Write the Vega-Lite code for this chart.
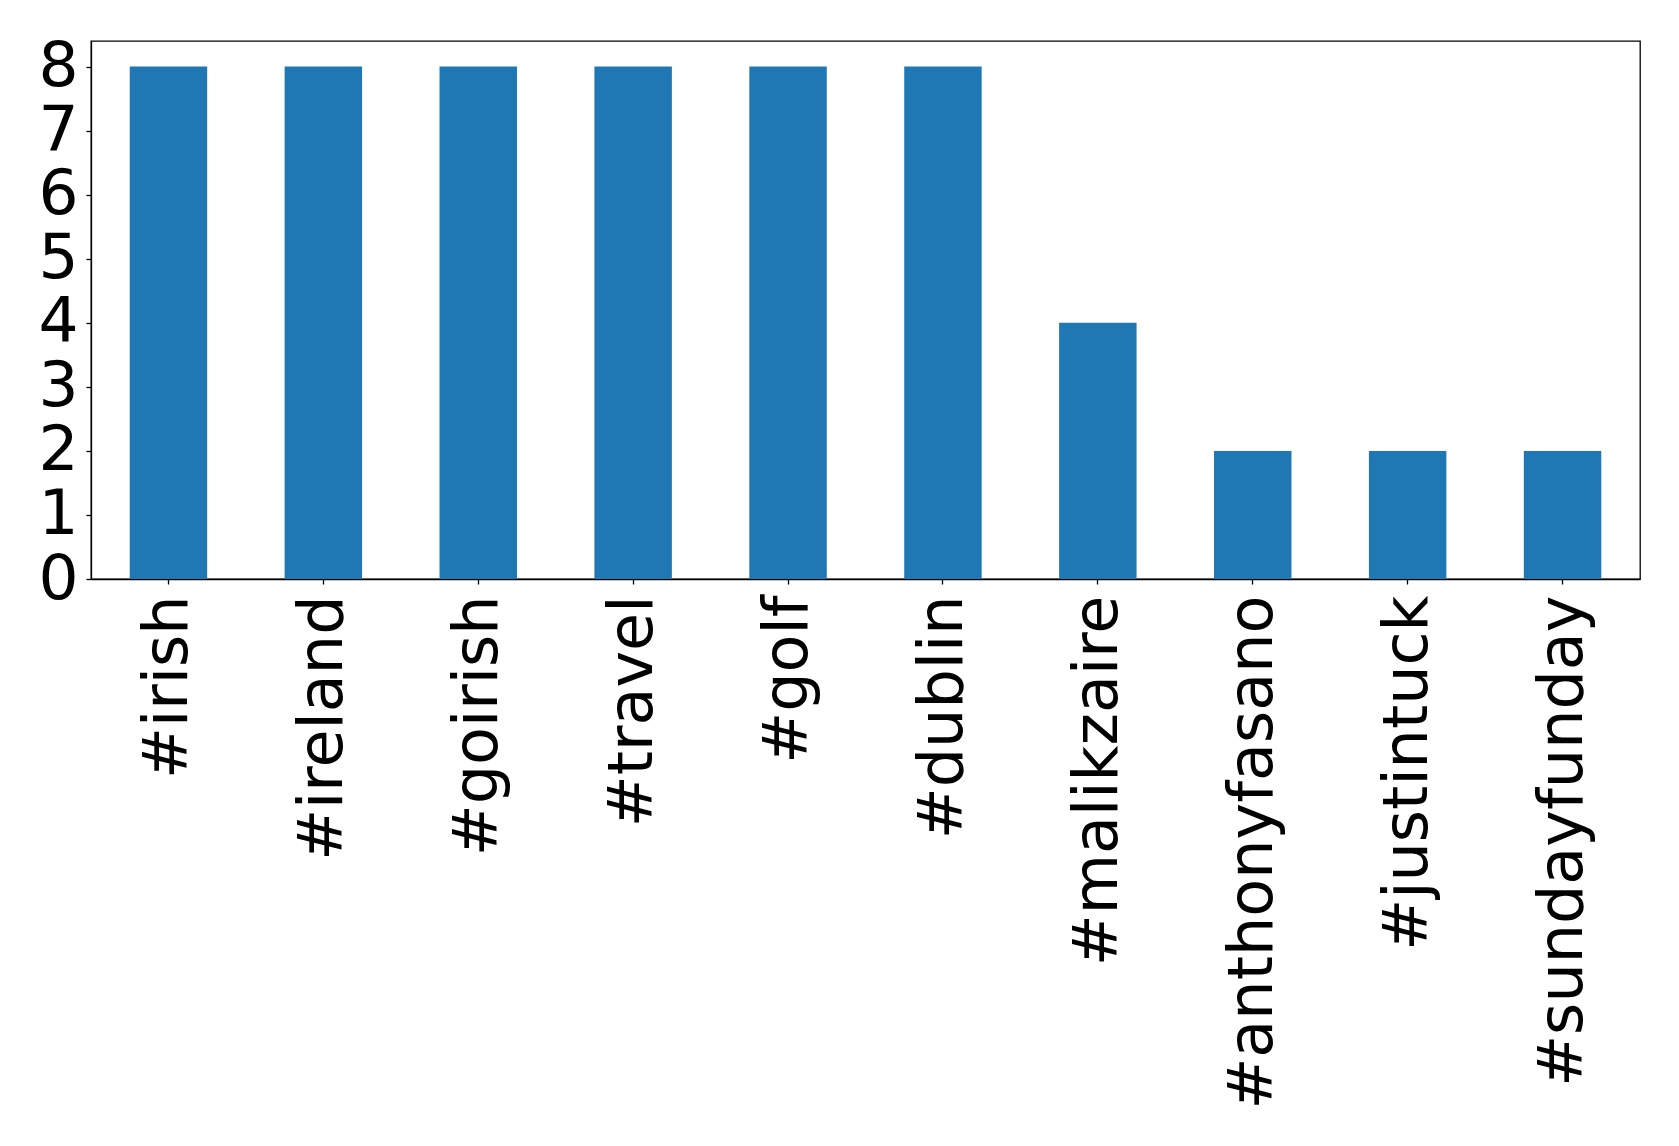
{
  "$schema": "https://vega.github.io/schema/vega-lite/v6.json",
  "width": 1549,
  "height": 538,
  "autosize": {"type": "none"},
  "padding": {"left": 91, "top": 41, "right": 39, "bottom": 567},
  "background": "white",
  "data": {"values": [
    {"tag": "#irish", "count": 8},
    {"tag": "#ireland", "count": 8},
    {"tag": "#goirish", "count": 8},
    {"tag": "#travel", "count": 8},
    {"tag": "#golf", "count": 8},
    {"tag": "#dublin", "count": 8},
    {"tag": "#malikzaire", "count": 4},
    {"tag": "#anthonyfasano", "count": 2},
    {"tag": "#justintuck", "count": 2},
    {"tag": "#sundayfunday", "count": 2}
  ]},
  "mark": {"type": "bar", "color": "#1f77b4"},
  "encoding": {
    "x": {
      "field": "tag", "type": "nominal", "sort": null,
      "scale": {"paddingInner": 0.5, "paddingOuter": 0.25},
      "axis": {
        "title": null, "labelAngle": 270, "labelAlign": "right", "labelBaseline": "middle",
        "labelFont": "DejaVu Sans", "labelFontSize": 62, "labelColor": "black",
        "labelPadding": 11, "labelLimit": 0, "tickSize": 5, "tickColor": "black", "domainColor": "black",
        "domainWidth": 1.3, "tickWidth": 1.3, "grid": false
      }
    },
    "y": {
      "field": "count", "type": "quantitative",
      "scale": {"domain": [0, 8.4], "nice": false, "zero": true},
      "axis": {
        "title": null, "values": [0,1,2,3,4,5,6,7,8], "format": "d",
        "labelFont": "DejaVu Sans", "labelFontSize": 63, "labelColor": "black",
        "labelPadding": 8, "tickSize": 5, "tickColor": "black", "domainColor": "black",
        "domainWidth": 1.3, "tickWidth": 1.3, "grid": false, "labelFlush": false, "labelOverlap": false
      }
    }
  },
  "config": {
    "view": {"stroke": "black", "strokeWidth": 1.3}
  }
}
